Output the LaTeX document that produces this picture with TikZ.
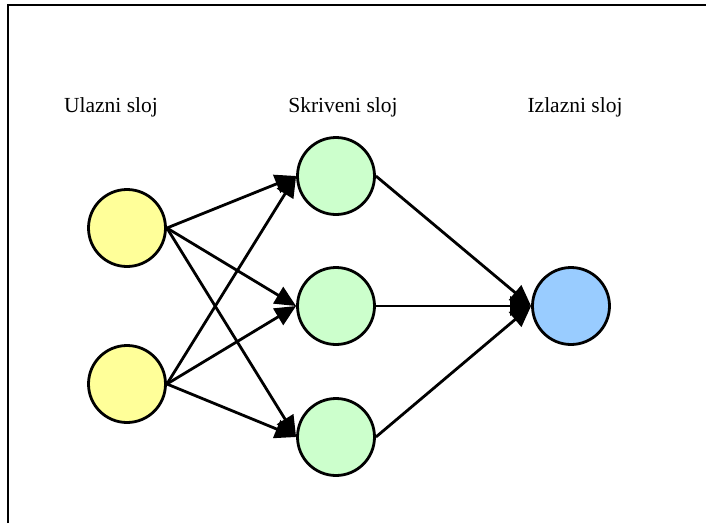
\documentclass[tikz,border=0pt]{standalone}
\usepackage{fontspec}
\setmainfont{Liberation Serif}
\usetikzlibrary{arrows.meta}
\definecolor{inyel}{HTML}{FFFF99}
\definecolor{hidgrn}{HTML}{CCFFCC}
\definecolor{outblu}{HTML}{99CCFF}
\tikzset{
  neuron/.style={circle, draw=black, line width=2.8pt, minimum size=77pt, inner sep=0pt},
  conn/.style={line width=2.8pt, -{Triangle[length=21pt,width=19pt]}},
  lbl/.style={font=\fontsize{21.5}{24}\selectfont, inner sep=0pt}
}
\begin{document}
\begin{tikzpicture}[x=1pt,y=-1pt]
\useasboundingbox (0,0) rectangle (706,523);
\fill[white] (0,0) rectangle (706,523);
\draw[line width=2pt] (8,523) -- (8,5) -- (706,5);
\node[lbl] (l1) at (111,107) {Ulazni sloj};
\node[lbl] (l2) at (343,107) {Skriveni sloj};
\node[lbl] (l3) at (575,107) {Izlazni sloj};
\node[neuron, fill=inyel] (i1) at (127,228) {};
\node[neuron, fill=inyel] (i2) at (127,384) {};
\node[neuron, fill=hidgrn] (h1) at (336,176) {};
\node[neuron, fill=hidgrn] (h2) at (336,306) {};
\node[neuron, fill=hidgrn] (h3) at (336,437) {};
\node[neuron, fill=outblu] (o1) at (571,306) {};
\foreach \i in {i1,i2}{
  \foreach \h in {h1,h2,h3}{
    \draw[conn] (\i.east) -- (\h.west);
  }
}
\foreach \h in {h1,h2,h3}{
  \draw[conn] (\h.east) -- (o1.west);
}
\end{tikzpicture}
\end{document}
